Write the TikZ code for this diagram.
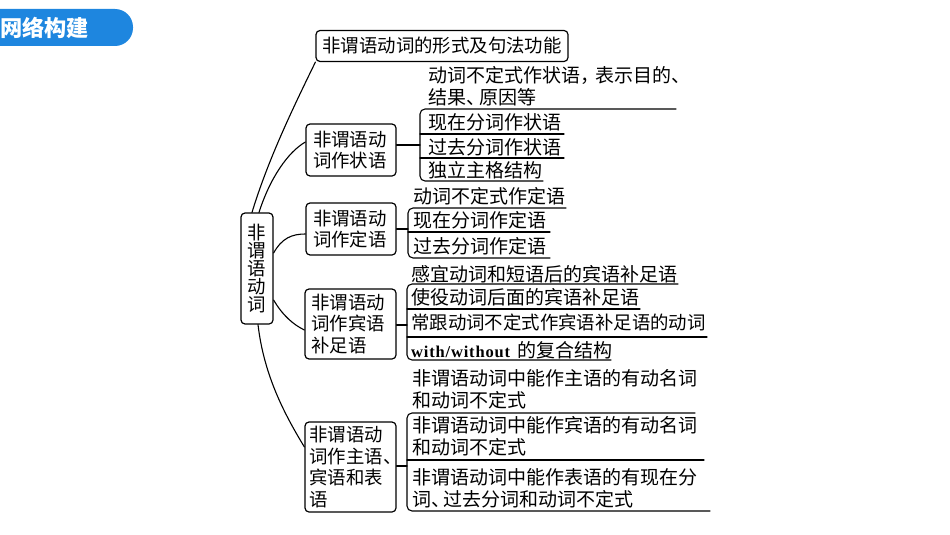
\documentclass[tikz,border=0pt]{standalone}
\usepackage{fontspec}
\setmainfont{Noto Sans CJK SC}
\newfontfamily\latinfont[LetterSpace=5]{Liberation Serif}
\definecolor{tabblue}{HTML}{1E86DF}
\tikzset{
	box/.style={draw, rounded corners=4pt, line width=1.2pt, inner sep=0pt, align=left},
	leaf/.style={anchor=west, inner sep=0pt, align=left, font=\fontsize{19}{21.8}\selectfont},
	rule/.style={line width=1.1pt, rounded corners=5pt},
	link/.style={line width=1.1pt}
}
\begin{document}
\begin{tikzpicture}[x=1pt, y=-1pt, line join=round, line cap=round, font=\fontsize{18.4}{21.8}\selectfont]
	\useasboundingbox (0,0) rectangle (950,535);
	% tab
	\fill [tabblue, rounded corners=18pt] (-30,9) -- (133,9) -- (133,46) -- (-30,46) -- cycle;
	\node [inner sep=0pt, white, font=\fontsize{22.2}{26}\selectfont\bfseries] (tab) at (44.6,28) {网络构建};
	% boxes
	\node [box, minimum width=32pt, minimum height=111pt, align=center, font=\fontsize{18.4}{18.2}\selectfont] (root) at (257,268.5) {非\\谓\\语\\动\\词};
	\node [box, minimum width=252pt, minimum height=31pt] (top) at (442,46) {非谓语动词的形式及句法功能};
	\node [box, minimum width=90pt, minimum height=52pt, text width=76pt] (adv) at (351,150) {非谓语动\\词作状语};
	\node [box, minimum width=90pt, minimum height=52pt, text width=76pt] (attr) at (351,229) {非谓语动\\词作定语};
	\node [box, minimum width=91pt, minimum height=70pt, text width=78pt] (comp) at (350.5,324) {非谓语动\\词作宾语\\补足语};
	\node [box, minimum width=91pt, minimum height=90pt, text width=82pt] (subj) at (350.5,467) {非谓语动\\词作主语、\\宾语和表\\语};
	% curves from the root
	\draw [link] ([xshift=-5pt]root.north) .. controls (268,160) and (292,110) .. (top.south west);
	\draw [link] ([xshift=2pt]root.north) .. controls (270,178) and (288,152) .. ([yshift=8pt]adv.west);
	\draw [link] ([yshift=15.5pt]root.east) .. controls (282,238) and (292,234) .. ([yshift=-5pt]attr.west);
	\draw [link] ([yshift=-31.5pt]root.east) .. controls (283,316) and (294,325) .. ([yshift=-6pt]comp.west);
	\draw [link] ([xshift=1pt]root.south) .. controls (264,376) and (285,415) .. ([yshift=20pt]subj.west);
	% adverbial
	\coordinate (advL) at (420,145);
	\draw [link] (adv.east |- advL) -- (advL);
	\draw [rule] (676,109) -- (420,109) -- (420,181) -- (543,181);
	\draw [link] (420,134) -- (564,134) (420,158) -- (564,158);
	\node [leaf] (adv1) at (428,86) {动词不定式作状语，\hspace{-4pt}表示目的、\\结果、\hspace{-6pt}原因等};
	\node [leaf] (adv2) at (428,122) {现在分词作状语};
	\node [leaf] (adv3) at (428,147) {过去分词作状语};
	\node [leaf] (adv4) at (428,170) {独立主格结构};
	% attribute
	\coordinate (attrL) at (408,229);
	\draw [link] (attr.east) -- (attrL);
	\draw [rule] (566,208) -- (408,208) -- (408,258) -- (550,258);
	\draw [link] (408,232) -- (550,232);
	\node [leaf] (attr1) at (413,196) {动词不定式作定语};
	\node [leaf] (attr2) at (413,220) {现在分词作定语};
	\node [leaf] (attr3) at (413,246) {过去分词作定语};
	% complement
	\coordinate (compL) at (407,325);
	\draw [link] (comp.east |- compL) -- (compL);
	\draw [rule] (678,284) -- (407,284) -- (407,360) -- (611,360);
	\draw [link] (407,309) -- (640,309) (407,337) -- (707,337);
	\node [leaf] (comp1) at (411,274) {感宜动词和短语后的宾语补足语};
	\node [leaf] (comp2) at (411,297) {使役动词后面的宾语补足语};
	\node [leaf, font=\fontsize{18.4}{21.8}\selectfont] (comp3) at (411,322) {常跟动词不定式作宾语补足语的动词};
	\node [leaf] (comp4) at (411,350) {{\latinfont\bfseries\fontsize{16.5}{20}\selectfont with/without}\hspace{3pt} 的复合结构};
	% subject, object, predicative
	\coordinate (subjL) at (407,466);
	\draw [link] (subj.east |- subjL) -- (subjL);
	\draw [rule] (695,413) -- (407,413) -- (407,511) -- (710,511);
	\draw [link] (407,460) -- (704,460);
	\node [leaf] (subj1) at (412,389.5) {非谓语动词中能作主语的有动名词\\和动词不定式};
	\node [leaf] (subj2) at (412,436) {非谓语动词中能作宾语的有动名词\\和动词不定式};
	\node [leaf] (subj3) at (412,488.5) {非谓语动词中能作表语的有现在分\\词、\hspace{-7pt}过去分词和动词不定式};
\end{tikzpicture}
\end{document}
